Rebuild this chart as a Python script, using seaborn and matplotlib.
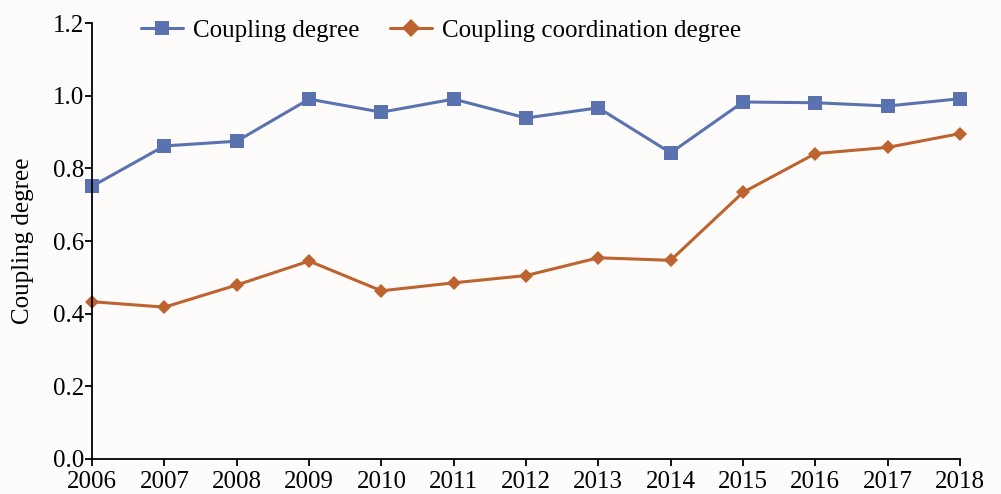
import pandas as pd
import seaborn as sns
import matplotlib.pyplot as plt

# Data
years = list(range(2006, 2019))
coupling = [0.751, 0.862, 0.875, 0.991, 0.955, 0.991, 0.939, 0.967, 0.843, 0.983, 0.981, 0.972, 0.992]
coordination = [0.433, 0.418, 0.479, 0.545, 0.463, 0.485, 0.505, 0.554, 0.547, 0.734, 0.841, 0.858, 0.896]

df = pd.DataFrame({
    'Year': years * 2,
    'Value': coupling + coordination,
    'Series': ['Coupling degree'] * len(years) + ['Coupling coordination degree'] * len(years),
})

sns.set_theme(style="ticks")
plt.rcParams['font.family'] = ['Liberation Serif', 'DejaVu Serif']
plt.rcParams['text.color'] = 'black'
plt.rcParams['axes.labelcolor'] = 'black'
plt.rcParams['xtick.color'] = 'black'
plt.rcParams['ytick.color'] = 'black'

fig = plt.figure(figsize=(10.01, 4.94), dpi=100)
fig.patch.set_facecolor('#fdfcfb')
ax = fig.add_axes([0.092, 0.071, 0.867, 0.882])
ax.set_facecolor('#fdfcfb')

palette = {'Coupling degree': '#5a73b0', 'Coupling coordination degree': '#bd6330'}
markers = {'Coupling degree': 's', 'Coupling coordination degree': 'D'}
sns.lineplot(data=df, x='Year', y='Value', hue='Series', style='Series',
             palette=palette, markers=markers, dashes=False, linewidth=2.2,
             markersize=9.5, markeredgewidth=0, ax=ax, clip_on=False)
# diamonds a bit smaller than squares
for line in ax.lines:
    if line.get_marker() == 'D':
        line.set_markersize(7.5)

ax.set_xlim(2006, 2018)
ax.set_ylim(0, 1.2)
ax.set_xticks(years)
ax.set_yticks([0.0, 0.2, 0.4, 0.6, 0.8, 1.0, 1.2])
ax.set_yticklabels(['0.0', '0.2', '0.4', '0.6', '0.8', '1.0', '1.2'])
ax.tick_params(axis='both', labelsize=18, direction='out', length=5, width=1.3)
ax.tick_params(axis='y', pad=1)
ax.tick_params(axis='x', pad=3.5)
ax.set_xlabel('')
ax.set_ylabel('Coupling degree', fontsize=18, labelpad=13)
for s in ['left', 'bottom']:
    ax.spines[s].set_linewidth(1.3)
    ax.spines[s].set_color('black')
sns.despine(ax=ax)

leg = ax.legend(loc='upper left', bbox_to_anchor=(0.03, 1.06), ncol=2, frameon=False,
                fontsize=18, handlelength=1.7, columnspacing=1.2, handletextpad=0.4)
for h in leg.legend_handles:
    h.set_markersize(9.5)

plt.savefig('out.png', dpi=100)
